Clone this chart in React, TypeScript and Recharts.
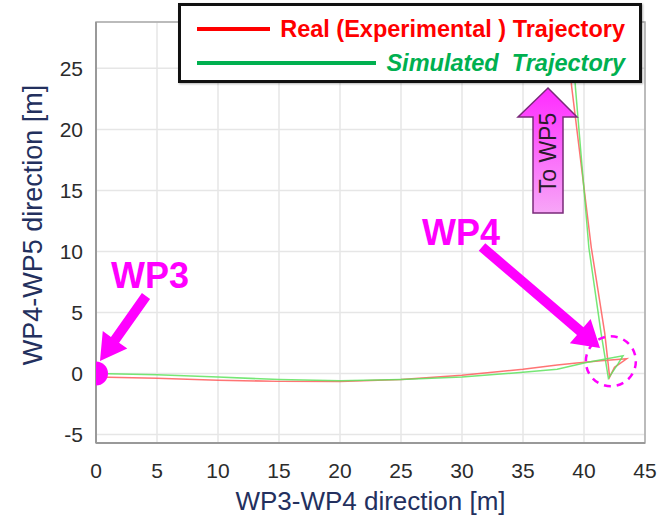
import {
  CartesianGrid,
  Line,
  LineChart,
  ReferenceArea,
  ReferenceDot,
  XAxis,
  YAxis,
} from "recharts";

const X_TICKS = [0, 5, 10, 15, 20, 25, 30, 35, 40, 45];
const Y_TICKS = [-5, 0, 5, 10, 15, 20, 25];

// real (experimental) path
const REAL_X = [0, 5, 10, 15, 20, 25, 30, 35, 37.8, 39.4, 41.4, 43.5, 42.5, 42.1, 41.7, 40.6, 39.0, 38.7];
const REAL_Y = [-0.3, -0.4, -0.55, -0.65, -0.65, -0.5, -0.15, 0.35, 0.7, 0.85, 1.05, 1.2, 0.5, -0.3, 3.3, 10.3, 23.4, 26.5];

// simulated path
const SIM_X = [0, 5, 10, 15, 20, 25, 30, 35, 37.8, 40.2, 43.2, 42.8, 42.0, 41.4, 40.4, 39.3, 39.1];
const SIM_Y = [0, -0.1, -0.3, -0.5, -0.6, -0.5, -0.3, 0.1, 0.35, 0.9, 1.45, 0.8, -0.4, 3.3, 10.3, 23.4, 26.5];

const zip = (xs: number[], ys: number[]) => xs.map((x, i) => ({ x, y: ys[i] }));

const SERIES = [
  {
    key: "real",
    label: "Real (Experimental ) Trajectory",
    line: "#ff5c5c",
    legend: "#ff0000",
    italic: false,
    data: zip(REAL_X, REAL_Y),
  },
  {
    key: "sim",
    label: "Simulated  Trajectory",
    line: "#5ee35e",
    legend: "#00b050",
    italic: true,
    data: zip(SIM_X, SIM_Y),
  },
];

const FONT = '"Liberation Sans", Arial, sans-serif';
const MAGENTA = "#ff00ff";
const LABEL_COLOR = "#23305e";

function arrowPoints(x1: number, y1: number, x2: number, y2: number, shaft: number, headLen: number, headW: number) {
  const L = Math.hypot(x2 - x1, y2 - y1);
  const ux = (x2 - x1) / L;
  const uy = (y2 - y1) / L;
  const px = -uy;
  const py = ux;
  const bx = x2 - ux * headLen;
  const by = y2 - uy * headLen;
  const pts = [
    [x1 + (px * shaft) / 2, y1 + (py * shaft) / 2],
    [bx + (px * shaft) / 2, by + (py * shaft) / 2],
    [bx + (px * headW) / 2, by + (py * headW) / 2],
    [x2, y2],
    [bx - (px * headW) / 2, by - (py * headW) / 2],
    [bx - (px * shaft) / 2, by - (py * shaft) / 2],
    [x1 - (px * shaft) / 2, y1 - (py * shaft) / 2],
  ];
  return pts.map((p) => p.join(",")).join(" ");
}

function Annotations() {
  return (
    <svg
      width={657}
      height={521}
      style={{ position: "absolute", left: 0, top: 0, pointerEvents: "none" }}
    >
      <defs>
        <linearGradient id="wp5fill" x1="0" y1="0" x2="0" y2="1">
          <stop offset="0%" stopColor="#ff2bff" />
          <stop offset="100%" stopColor="#f7a6f7" />
        </linearGradient>
      </defs>
      <text x={150} y={288} textAnchor="middle" fontFamily={FONT} fontWeight="bold" fontSize={36} fill={MAGENTA}>
        WP3
      </text>
      <polygon points={arrowPoints(146, 296, 100, 361, 10, 26, 30)} fill={MAGENTA} />
      <text x={461} y={245} textAnchor="middle" fontFamily={FONT} fontWeight="bold" fontSize={36} fill={MAGENTA}>
        WP4
      </text>
      <polygon points={arrowPoints(482, 247, 600, 348, 10, 26, 32)} fill={MAGENTA} />
      <polygon
        points="548,88 577,117 563,117 563,213 533,213 533,117 518,117"
        fill="url(#wp5fill)"
        stroke="#7a2a7a"
        strokeWidth={1.5}
      />
      <text
        x={556}
        y={153}
        transform="rotate(-90 556 153)"
        textAnchor="middle"
        fontFamily={FONT}
        fontSize={23}
        fill="#2a1a2a"
      >
        To WP5
      </text>
    </svg>
  );
}

function LegendBox() {
  return (
    <div
      style={{
        position: "absolute",
        left: 178,
        top: 3,
        width: 428,
        height: 68,
        border: "3px solid #111",
        background: "#fff",
        padding: "6px 14px 0 16px",
        boxSizing: "content-box",
        fontFamily: FONT,
        boxShadow: "1px 1px 2px rgba(0,0,0,0.3)",
      }}
    >
      {SERIES.map((s) => (
        <div key={s.key} style={{ display: "flex", alignItems: "center", height: 34 }}>
          <span style={{ flex: 1, height: 4, background: s.legend, marginRight: 10 }} />
          <span
            style={{
              color: s.legend,
              fontWeight: "bold",
              fontStyle: s.italic ? "italic" : "normal",
              fontSize: 23.5,
              whiteSpace: "pre",
            }}
          >
            {s.label}
          </span>
        </div>
      ))}
    </div>
  );
}

const yLabel = () => (
  <text
    x={42}
    y={225}
    transform="rotate(-90 42 225)"
    textAnchor="middle"
    fontFamily={FONT}
    fontSize={27}
    fill={LABEL_COLOR}
  >
    WP4-WP5 direction [m]
  </text>
);

export default function App() {
  return (
    <div style={{ position: "absolute", left: 0, top: 0, width: 657, height: 521, background: "#fff" }}>
      <LineChart
        width={657}
        height={521}
        margin={{ top: 22, right: 12, bottom: 0, left: 0 }}
        style={{ fontFamily: FONT }}
      >
        <CartesianGrid stroke="#e6e6e6" strokeWidth={1.5} />
        <XAxis
          dataKey="x"
          type="number"
          domain={[0, 45]}
          ticks={X_TICKS}
          allowDataOverflow
          height={78}
          tickSize={0}
          tickMargin={20}
          axisLine={{ stroke: "#999", strokeWidth: 2 }}
          tick={{ fontSize: 21, fill: "#2b2b2b" }}
          label={{
            value: "WP3-WP4 direction [m]",
            position: "insideBottom",
            offset: 11,
            fontSize: 26,
            fill: LABEL_COLOR,
          }}
        />
        <YAxis
          dataKey="y"
          type="number"
          domain={[-5.7, 28.8]}
          ticks={Y_TICKS}
          allowDataOverflow
          width={96}
          tickSize={0}
          tickMargin={13}
          axisLine={{ stroke: "#999", strokeWidth: 2 }}
          tick={{ fontSize: 21, fill: "#2b2b2b" }}
          label={{ content: yLabel }}
        />
        <ReferenceArea x1={0} x2={45} y1={-5.7} y2={28.8} fill="none" stroke="#aaa" strokeWidth={1.5} />
        {SERIES.map((s) => (
          <Line
            key={s.key}
            data={s.data}
            dataKey="y"
            name={s.label}
            type="linear"
            stroke={s.line}
            strokeWidth={1.5}
            strokeOpacity={0.85}
            dot={false}
            isAnimationActive={false}
          />
        ))}
        <ReferenceDot x={0} y={0} r={12} fill={MAGENTA} stroke="none" ifOverflow="hidden" />
        <ReferenceDot
          x={42.2}
          y={1.0}
          r={25}
          fill="none"
          stroke={MAGENTA}
          strokeWidth={2.5}
          strokeDasharray="7 6"
          ifOverflow="visible"
        />
      </LineChart>
      <Annotations />
      <LegendBox />
    </div>
  );
}
